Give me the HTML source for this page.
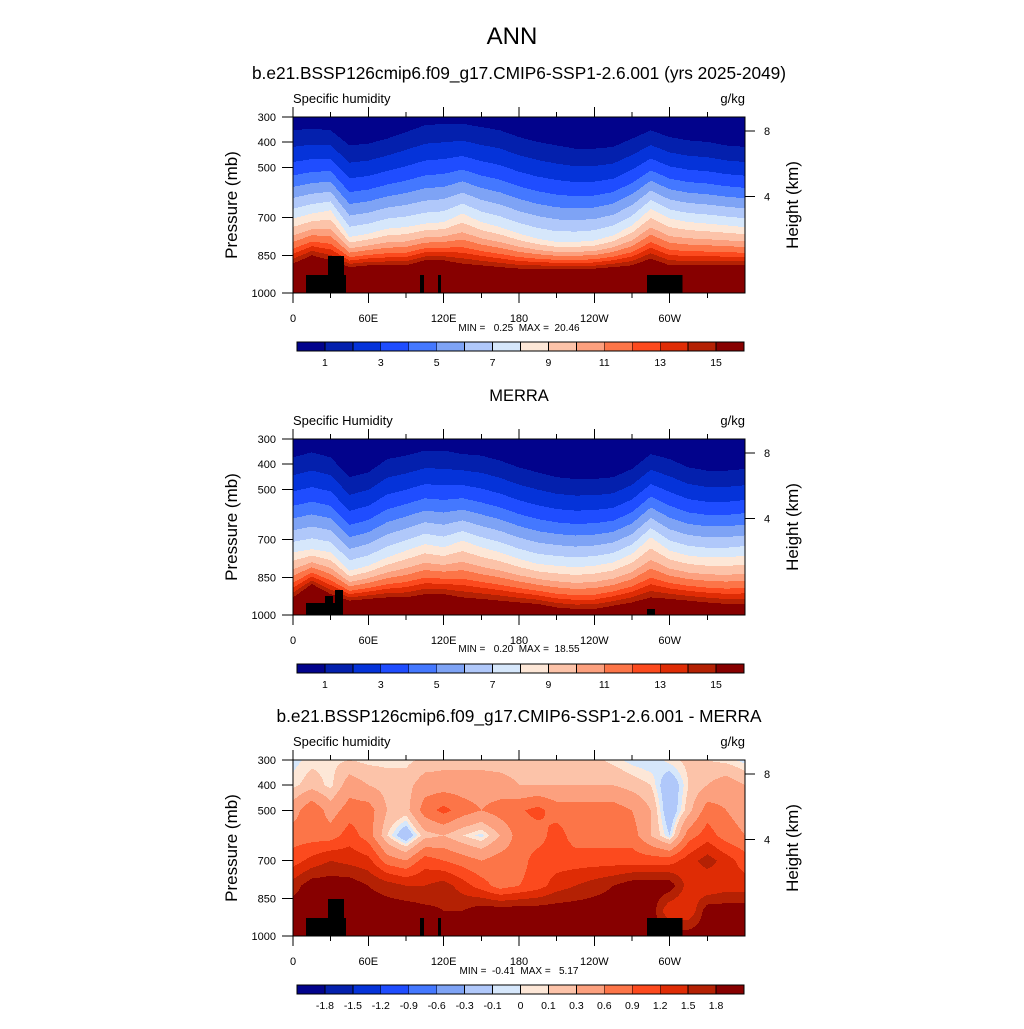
<!DOCTYPE html>
<html><head><meta charset="utf-8">
<style>
html,body{margin:0;padding:0;background:#fff;}
svg text{font-family:"Liberation Sans",Arial,sans-serif;fill:#000;white-space:pre;}
</style></head>
<body>
<svg id="chart" xmlns="http://www.w3.org/2000/svg" width="1024" height="1024" viewBox="0 0 1024 1024" shape-rendering="crispEdges" xml:space="preserve">
<rect x="0" y="0" width="1024" height="1024" fill="#fff"/>
<text x="512" y="44" font-size="24" text-anchor="middle">ANN</text>
</svg>
<script>
// ---------- data ----------
const lonNodes = [0,15,30,45,60,75,90,105,120,135,150,165,180,195,210,225,240,255,270,285,300,315,330,345,360];
// pressure (mb) of the 1 g/kg, 8 g/kg, 15 g/kg contours along longitude
const modelP1  = [353,346,353,413,406,386,360,333,327,327,340,353,380,399,413,426,426,419,386,353,380,393,399,413,419];
const modelP8  = [704,684,671,777,764,744,738,724,718,684,718,738,764,784,797,797,791,771,731,665,704,718,724,731,738];
const modelP15 = [883,850,870,897,890,890,890,870,870,883,890,897,903,903,903,903,903,897,890,863,890,890,890,890,890];
const merraP1  = [373,353,373,452,433,380,366,346,346,360,366,386,413,433,452,459,459,452,419,360,380,413,426,426,419];
const merraP8  = [751,738,751,824,804,771,744,718,731,704,731,751,777,797,804,810,804,791,757,691,744,764,771,771,764];
const merraP15 = [930,877,917,943,936,930,930,917,917,930,936,943,950,956,970,976,976,963,950,930,936,943,950,956,956];
// reference vertical profile (lon 0, model)
const profP = [300,353,419,479,532,578,622,665,704,737,771,797,824,844,864,883,1000];
const profQ = [0.5,1,2,3,4,5,6,7,8,9,10,11,12,13,14,15,18];
// difference field (g/kg) on pressure levels x lonNodes
const diffLevels = [300,400,500,600,700,800,900,1000];
const diff300 = [-0.05,0.05,0.05,0.1,0.05,0.05,0.05,0.15,0.2,0.2,0.2,0.2,0.2,0.2,0.2,0.2,0.15,0.05,-0.05,-0.1,0.05,0.15,0.1,0.05,-0.05];
const diff400 = [0.05,0.2,0.05,0.45,0.3,0.2,0.2,0.45,0.45,0.45,0.45,0.4,0.3,0.3,0.3,0.3,0.3,0.3,0.2,0.1,-0.3,0.1,0.3,0.45,0.3];
const diff500 = [0.45,0.85,0.45,0.75,0.75,0.3,0.2,0.75,1.0,0.75,0.6,0.75,0.85,1.0,0.75,0.75,0.75,0.75,0.6,0.3,-0.3,0.2,0.75,0.6,0.45];
const diff600 = [0.75,0.75,0.75,1.05,0.75,0.1,-0.3,0.2,0.3,0.1,-0.05,0.3,0.75,0.75,1.05,0.75,0.75,0.75,0.75,0.3,-0.1,0.75,1.05,0.75,0.6];
const diff700 = [1.05,1.3,1.5,1.4,1.3,0.75,0.6,1.05,0.9,0.75,0.6,0.75,0.75,1.05,1.05,1.05,1.05,1.05,1.05,1.05,1.05,1.35,1.65,1.35,1.05];
const diff800 = [1.65,2.0,2.0,2.0,1.8,1.65,1.5,1.5,1.65,1.35,1.05,0.75,0.9,1.05,1.35,1.5,1.65,1.8,2.0,2.0,2.0,1.35,1.2,1.35,1.35];
const diff900 = [2.0,2.0,2.0,2.0,2.0,2.0,2.0,1.9,1.8,1.8,2.0,2.0,2.0,2.0,2.0,2.0,2.0,2.0,2.0,2.0,1.2,1.2,2.0,2.0,2.0];
const diff1000= [2.0,2.0,2.0,2.0,2.0,2.0,2.0,2.0,2.0,2.0,2.0,2.0,2.0,2.0,2.0,2.0,2.0,2.0,2.0,2.0,2.0,2.0,2.0,2.0,2.0];
// topography masks: [lonStart, lonEnd, pressureTop]
const modelMask = [[10.4,42.2,928],[27.9,40.6,853],[101,104.3,928],[115.5,117.9,928],[282,310.4,928]];
const merraMask = [[10.4,39.8,952],[25.5,31.9,924],[33.5,39.8,900],[282,288.3,976]];
const qLevels = [1,2,3,4,5,6,7,8,9,10,11,12,13,14,15];
const qLabels = ["1","3","5","7","9","11","13","15"];
const dLevels = [-1.8,-1.5,-1.2,-0.9,-0.6,-0.3,-0.1,0,0.1,0.3,0.6,0.9,1.2,1.5,1.8];
const dLabels = ["-1.8","-1.5","-1.2","-0.9","-0.6","-0.3","-0.1","0","0.1","0.3","0.6","0.9","1.2","1.5","1.8"];
const pTicks = [300,400,500,700,850,1000];
const lonTicks = [0,60,120,180,240,300];
const lonTickLabels = ["0","60E","120E","180","120W","60W"];
const hTicks = [[8,356],[4,616]]; // km, pressure
const palette = ['#02038c','#0420ad','#0533d9','#1f4dff','#4478ff','#7ea3f5','#b0c8fa','#d6e7fb','#fde7d7','#fcc3a9','#fca07e','#fc7548','#fc4a1e','#df2c05','#b42104','#870000'];

// ---------- helpers ----------
const NS='http://www.w3.org/2000/svg';
const svg=document.getElementById('chart');
function mk(tag,attrs,parent){const e=document.createElementNS(NS,tag);for(const k in attrs)e.setAttribute(k,attrs[k]);(parent||svg).appendChild(e);return e;}
function interp(xs,ys,x){if(x<=xs[0])return ys[0];for(let i=1;i<xs.length;i++){if(x<=xs[i]){const t=(x-xs[i-1])/(xs[i]-xs[i-1]);return ys[i-1]+t*(ys[i]-ys[i-1]);}}return ys[ys.length-1];}
const X0=293,W=452,H=176;
function xScale(lon){return X0+lon/360*W;}
function yScale(p,top){return top+(p-300)/700*H;}
function cls(v,levels){let c=0;for(const l of levels)if(v>=l)c++;return c;}

function profileField(P1,P8,P15){
  return function(lon,p){
    const a=interp(lonNodes,P1,lon),b=interp(lonNodes,P8,lon),c=interp(lonNodes,P15,lon);
    const p0=interp([300,a,b,c,1000],[300,353,704,883,1000],p);
    return interp(profP,profQ,p0);
  };
}
const diffRows=[diff300,diff400,diff500,diff600,diff700,diff800,diff900,diff1000];
function diffField(lon,p){
  const col=diffRows.map(r=>interp(lonNodes,r,lon));
  return interp(diffLevels,col,p);
}

function drawPanel(top,field,levels,masks,name){
  const g=mk('g',{});
  
  
  for(let j=0;j<H;j++){
    const p=300+(j+0.5)/H*700;
    let start=0,cur=-1;
    for(let i=0;i<=W;i++){
      let c=-1;
      if(i<W){const lon=(i+0.5)/W*360;c=cls(field(lon,p),levels);}
      if(c!==cur){
        if(cur>=0){mk('rect',{x:X0+start,y:top+j,width:i-start,height:1,fill:palette[cur]},g);}
        start=i;cur=c;
      }
    }
  }
  for(const m of masks){
    const r=mk('rect',{x:xScale(m[0]),y:yScale(m[2],top),width:xScale(m[1])-xScale(m[0]),height:top+H-yScale(m[2],top),fill:'#000'},g);
    
    
  }
  const fr=mk('rect',{x:X0,y:top,width:W,height:H,fill:'none',stroke:'#000','stroke-width':1});
  
  
  for(const p of pTicks){
    const y=yScale(p,top);
    mk('line',{x1:282,x2:X0,y1:y,y2:y,stroke:'#000'});
    const t=mk('text',{x:276,y:y+4,'font-size':11,'text-anchor':'end'});t.textContent=p;
    
    
  }
  for(let lon=0;lon<360;lon+=30){
    const x=xScale(lon),len=(lon%60===0)?10:5;
    mk('line',{x1:x,x2:x,y1:top,y2:top-len,stroke:'#000'});
    mk('line',{x1:x,x2:x,y1:top+H,y2:top+H+len,stroke:'#000'});
  }
  lonTicks.forEach((lon,i)=>{
    const t=mk('text',{x:xScale(lon),y:top+H+29,'font-size':11,'text-anchor':'middle'});t.textContent=lonTickLabels[i];
    
    
  });
  for(const h of hTicks){
    const y=yScale(h[1],top);
    mk('line',{x1:X0+W,x2:X0+W+10,y1:y,y2:y,stroke:'#000'});
    const t=mk('text',{x:764,y:y+4,'font-size':11});t.textContent=h[0];
    
    
  }
  const yl=mk('text',{x:0,y:0,'font-size':17,'text-anchor':'middle',transform:`translate(237,${top+88}) rotate(-90)`});yl.textContent='Pressure (mb)';
  
  
  const yr=mk('text',{x:0,y:0,'font-size':17,'text-anchor':'middle',transform:`translate(798,${top+88}) rotate(-90)`});yr.textContent='Height (km)';
  
  
}

function drawColorbar(y,levels,labels,every,name){
  const g=mk('g',{});
  
  
  const bx=297,bw=447/palette.length;
  palette.forEach((c,i)=>{mk('rect',{x:bx+i*bw,y:y,width:bw,height:9,fill:c,stroke:'#000','stroke-width':0.8},g);});
  let k=0;
  levels.forEach((l,i)=>{
    if(i%every===0){const t=mk('text',{x:bx+(i+1)*bw,y:y+24,'font-size':10.5,'text-anchor':'middle'},g);t.textContent=labels[k++];
      
      }
  });
}
function txt(x,y,s,size,anchor,name){const t=mk('text',{x:x,y:y,'font-size':size,'text-anchor':anchor});t.textContent=s;
  
  return t;}

txt(519,79,'b.e21.BSSP126cmip6.f09_g17.CMIP6-SSP1-2.6.001 (yrs 2025-2049)',17.3,'middle','panel1-title');
txt(293,103,'Specific humidity',13,'start','panel1-variable');
txt(745,103,'g/kg',13,'end','panel1-units');
drawPanel(117,profileField(modelP1,modelP8,modelP15),qLevels,modelMask,'panel1');
txt(519,331,'MIN =   0.25  MAX =  20.46',10,'middle','panel1-minmax');
drawColorbar(342,qLevels,qLabels,2,'panel1-colorbar');

txt(519,401,'MERRA',16.5,'middle','panel2-title');
txt(293,425,'Specific Humidity',13,'start','panel2-variable');
txt(745,425,'g/kg',13,'end','panel2-units');
drawPanel(439,profileField(merraP1,merraP8,merraP15),qLevels,merraMask,'panel2');
txt(519,652,'MIN =   0.20  MAX =  18.55',10,'middle','panel2-minmax');
drawColorbar(664,qLevels,qLabels,2,'panel2-colorbar');

txt(519,722,'b.e21.BSSP126cmip6.f09_g17.CMIP6-SSP1-2.6.001 - MERRA',17.3,'middle','panel3-title');
txt(293,746,'Specific humidity',13,'start','panel3-variable');
txt(745,746,'g/kg',13,'end','panel3-units');
drawPanel(760,diffField,dLevels,modelMask,'panel3');
txt(519,974,'MIN =  -0.41  MAX =   5.17',10,'middle','panel3-minmax');
drawColorbar(985,dLevels,dLabels,1,'panel3-colorbar');
</script>
</body></html>
